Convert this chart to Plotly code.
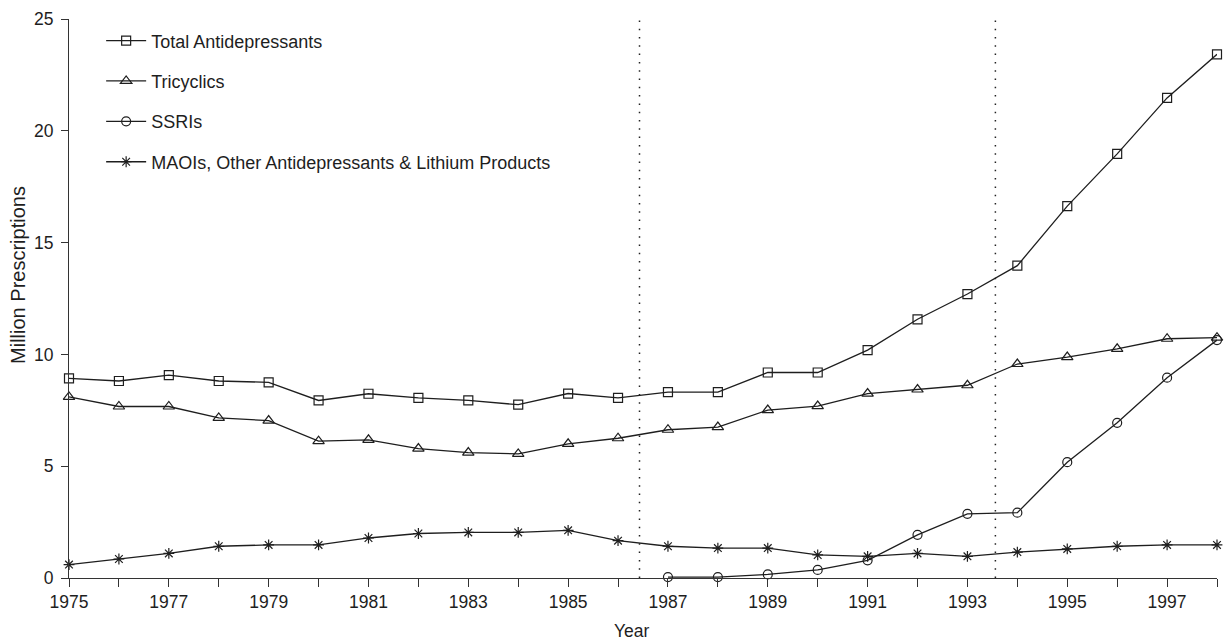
import plotly.graph_objects as go

years = list(range(1975, 1999))
total = [8.93, 8.81, 9.07, 8.81, 8.75, 7.94, 8.24, 8.06, 7.94, 7.75, 8.25, 8.06,
         8.31, 8.31, 9.19, 9.19, 10.19, 11.57, 12.70, 13.97, 16.63, 18.97, 21.47, 23.42]
tricyclics = [8.10, 7.67, 7.67, 7.16, 7.04, 6.12, 6.18, 5.79, 5.61, 5.55, 6.00, 6.25,
              6.63, 6.75, 7.51, 7.69, 8.25, 8.43, 8.62, 9.57, 9.88, 10.25, 10.70, 10.75]
ssri = [None] * 12 + [0.04, 0.04, 0.16, 0.36, 0.79, 1.93, 2.87, 2.92, 5.18, 6.94, 8.96, 10.64]
maoi = [0.60, 0.85, 1.10, 1.42, 1.48, 1.48, 1.79, 1.99, 2.04, 2.04, 2.13, 1.67,
        1.42, 1.34, 1.34, 1.03, 0.97, 1.10, 0.97, 1.16, 1.30, 1.42, 1.48, 1.48]

series_names = ["Total Antidepressants", "Tricyclics", "SSRIs",
                "MAOIs, Other Antidepressants & Lithium Products"]
series_values = [total, tricyclics, ssri, maoi]
symbols = ["square-open", "triangle-up-open", "circle-open", "asterisk-open"]
sizes = [9, 10, 9, 9]

period_markers = [1986.43, 1993.56]
y_ticks = [0, 5, 10, 15, 20, 25]
x_tick_vals = years
x_tick_text = [str(y) if (y - 1975) % 2 == 0 else "" for y in years]

FONT = "Liberation Sans, Arial, Helvetica, sans-serif"
INK = "#1e1e1e"

fig = go.Figure()
for i, (name, vals, sym, sz) in enumerate(zip(series_names, series_values, symbols, sizes)):
    fig.add_trace(go.Scatter(
        x=years, y=vals, name=name, mode="lines+markers",
        line=dict(color=INK, width=1.3),
        marker=dict(symbol=sym, size=sz, color=INK, line=dict(color=INK, width=1.2)),
        legendgroup=f"g{i}", cliponaxis=False, connectgaps=False,
    ))

for xv in period_markers:
    fig.add_shape(type="line", xref="x", yref="y", x0=xv, x1=xv, y0=0, y1=25,
                  line=dict(color="#222", width=1.5, dash="1.5px,6.8px"))

fig.update_layout(
    width=1226, height=641,
    margin=dict(l=69, r=9, t=19, b=63),
    paper_bgcolor="white", plot_bgcolor="white",
    font=dict(family=FONT, size=18, color=INK),
    showlegend=True,
    legend=dict(x=0.028, y=0.994, xanchor="left", yanchor="top",
                bgcolor="rgba(0,0,0,0)", borderwidth=0,
                font=dict(family=FONT, size=18, color=INK),
                tracegroupgap=14, itemwidth=40),
    xaxis=dict(range=[1975, 1998], tickvals=x_tick_vals, ticktext=x_tick_text,
               showgrid=False, zeroline=False, showline=True, linecolor="#333",
               linewidth=1, ticks="outside", ticklen=8, tickcolor="#333",
               tickfont=dict(size=17.5)),
    yaxis=dict(range=[0, 25], tickvals=y_ticks, showgrid=False, zeroline=False,
               showline=True, linecolor="#333", linewidth=1, ticks="outside",
               ticklen=7, tickcolor="#333", tickfont=dict(size=17.5),
               ticklabelstandoff=4),
    annotations=[
        dict(text="Year", xref="paper", yref="paper", x=0.49, y=-0.095,
             xanchor="center", yanchor="middle", showarrow=False,
             font=dict(size=17.5, color=INK)),
        dict(text="Million Prescriptions", xref="paper", yref="paper", x=-0.044,
             y=0.543, xanchor="center", yanchor="middle", textangle=-90,
             showarrow=False, font=dict(size=20, color=INK)),
    ],
)

fig.write_html(
    "out.html",
    config={"displayModeBar": False},
    post_script="document.body.style.margin='0';document.body.style.overflow='hidden';",
)
